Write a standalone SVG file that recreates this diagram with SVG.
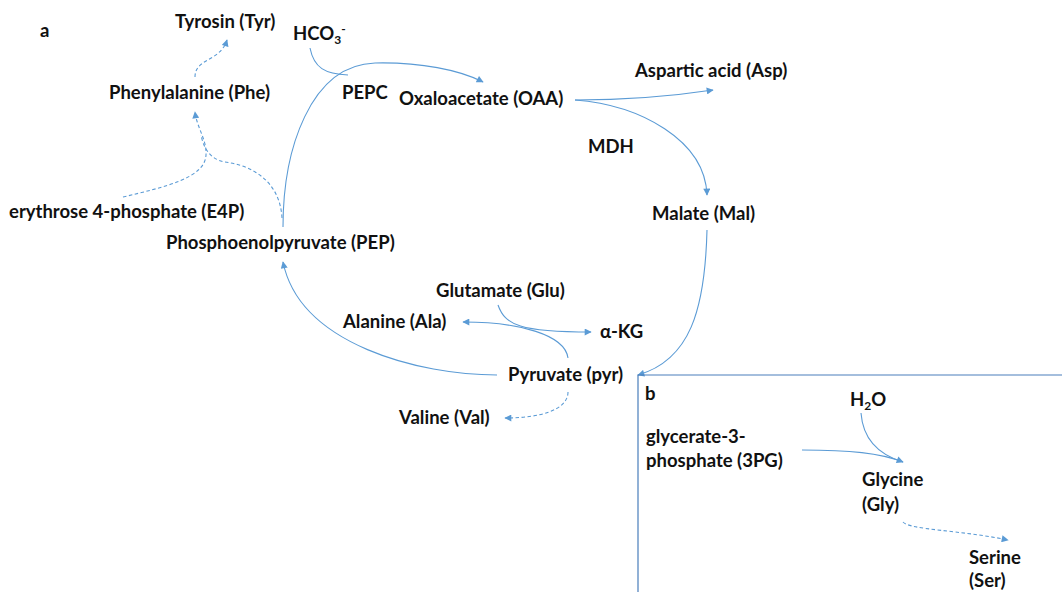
<svg xmlns="http://www.w3.org/2000/svg" width="1062" height="592" viewBox="0 0 1062 592">
<style>
text{font-family:Lato,"Open Sans","Liberation Sans",sans-serif;font-weight:bold;font-size:18.5px;fill:#111}
.c{fill:none;stroke:#5B9BD5;stroke-width:1.1}
.d{stroke-dasharray:3.5,2.5}
.box{fill:none;stroke:#4A7EBB;stroke-width:1.2}
</style>
<defs>
<marker id="ah" viewBox="0 0 10 10" refX="9" refY="5" markerWidth="8" markerHeight="7" markerUnits="userSpaceOnUse" orient="auto">
<path d="M0,0 L10,5 L0,10 z" fill="#5B9BD5"/>
</marker>
</defs>
<g id="connectors">
<path class="c" d="M283,227 C283,150 310,65 375,63 C420,62 460,70 483,82" marker-end="url(#ah)"/>
<path class="c" d="M310,48 C314,68 325,74 348,75"/>
<path class="c" d="M575,100 C640,100 680,95 713,90" marker-end="url(#ah)"/>
<path class="c" d="M575,100 C640,105 705,140 707,195" marker-end="url(#ah)"/>
<path class="c" d="M707,230 C705,310 690,360 638,375" marker-end="url(#ah)"/>
<path class="c" d="M497,375 C420,375 300,345 283,262" marker-end="url(#ah)"/>
<path class="c" d="M568,358 C565,335 520,322 463,322" marker-end="url(#ah)"/>
<path class="c" d="M498,305 C505,325 520,332 591,332" marker-end="url(#ah)"/>
<path class="c d" d="M568,392 C568,410 540,418 505,418" marker-end="url(#ah)"/>
<path class="c d" d="M195,77 C195,58 220,62 227,40" marker-end="url(#ah)"/>
<path class="c d" d="M123,197 C165,187 205,178 206,155 C207,140 197,128 195,112" marker-end="url(#ah)"/>
<path class="c d" d="M282,218 C280,180 250,165 225,162 C208,159 203,145 201,135"/>
<path class="c" d="M802,450 C850,450 880,453 903,462" marker-end="url(#ah)"/>
<path class="c" d="M861,413 C863,440 880,455 903,462"/>
<path class="c d" d="M903,522 C910,530 960,530 1008,540" marker-end="url(#ah)"/>
</g>
<g id="panel-b-frame">
<path class="box" d="M638,592 L638,375 L1062,375"/>
</g>
<g id="label-a"><text x="40" y="37">a</text></g>
<g id="tyr"><text x="175" y="28">Tyrosin (Tyr)</text></g>
<g id="hco3"><text x="293" y="40">HCO<tspan font-size="12" dy="4">3</tspan><tspan font-size="12" dy="-11">-</tspan></text></g>
<g id="phe"><text x="109" y="99">Phenylalanine (Phe)</text></g>
<g id="pepc"><text x="342" y="99">PEPC</text></g>
<g id="oaa"><text x="399" y="105">Oxaloacetate (OAA)</text></g>
<g id="asp"><text x="635" y="77">Aspartic acid (Asp)</text></g>
<g id="mdh"><text x="588" y="153">MDH</text></g>
<g id="mal"><text x="652" y="220">Malate (Mal)</text></g>
<g id="e4p"><text x="9" y="218">erythrose 4-phosphate (E4P)</text></g>
<g id="pep"><text x="166" y="249">Phosphoenolpyruvate (PEP)</text></g>
<g id="glu"><text x="436" y="297">Glutamate (Glu)</text></g>
<g id="ala"><text x="343" y="328">Alanine (Ala)</text></g>
<g id="akg"><text x="600" y="338">α-KG</text></g>
<g id="pyr"><text x="508" y="381">Pyruvate (pyr)</text></g>
<g id="val"><text x="399" y="424">Valine (Val)</text></g>
<g id="label-b"><text x="645" y="400">b</text></g>
<g id="h2o"><text x="850" y="406">H<tspan font-size="12" dy="4">2</tspan><tspan dy="-4">O</tspan></text></g>
<g id="3pg"><text x="646" y="443">glycerate-3-</text><text x="646" y="467">phosphate (3PG)</text></g>
<g id="gly"><text x="862" y="486">Glycine</text><text x="862" y="511">(Gly)</text></g>
<g id="ser"><text x="969" y="564">Serine</text><text x="969" y="587">(Ser)</text></g>
</svg>
